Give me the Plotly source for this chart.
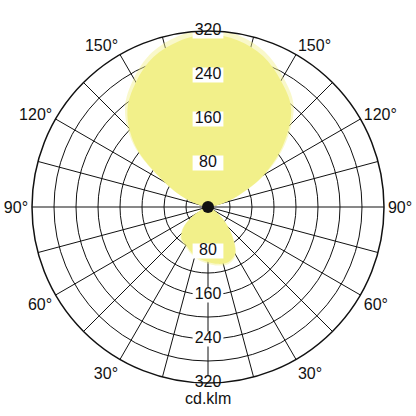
import plotly.graph_objects as go

# luminous intensity (cd/klm)
# plotly theta: 0 = straight down, 90 = right, 180 = straight up, 270 = left
theta = [0, 10, 20, 30, 40, 50, 60, 70, 80, 90,
         100, 110, 120, 130, 140, 150, 160, 170, 180,
         190, 200, 210, 220, 230, 240, 250, 260, 270,
         280, 290, 300, 310, 320, 330, 340, 350, 360]
intensity = [100, 105, 107, 98, 68, 38, 15, 5, 0, 0,
             15, 55, 118, 180, 235, 265, 292, 308, 314,
             306, 290, 262, 228, 172, 92, 42, 12, 0,
             2, 10, 30, 58, 75, 80, 88, 95, 100]

ring_vals = [40, 80, 120, 160, 200, 240, 280, 320]
ring_labels = [80, 160, 240, 320]
spoke_vals = list(range(0, 360, 15))
angle_text = {30: "30°", 60: "60°", 90: "90°", 120: "120°", 150: "150°",
              210: "150°", 240: "120°", 270: "90°", 300: "60°", 330: "30°"}

font = "Liberation Sans, Arial, sans-serif"
ink = "#111111"

fig = go.Figure()

# soft halo + light distribution fill
fig.add_trace(go.Scatterpolar(
    r=[v * 1.03 for v in intensity], theta=theta,
    mode="lines", fill="toself", line_shape="spline",
    fillcolor="rgba(242,240,138,0.45)", line=dict(width=0),
    hoverinfo="skip", showlegend=False,
))
fig.add_trace(go.Scatterpolar(
    r=intensity, theta=theta,
    mode="lines", fill="toself", line_shape="spline",
    fillcolor="rgb(242,240,138)", line=dict(width=0),
    showlegend=False,
))

# radial labels (up and down) with white boxes cutting the lines
lab_r = ring_labels + ring_labels
lab_t = [180] * len(ring_labels) + [0] * len(ring_labels)
fig.add_trace(go.Scatterpolar(
    r=lab_r, theta=lab_t, mode="markers+text",
    text=[str(v) for v in lab_r],
    textposition="middle center",
    textfont=dict(family=font, size=16, color=ink),
    marker=dict(symbol="line-ew", size=22,
                line=dict(width=15, color="white")),
    hoverinfo="skip", showlegend=False,
))

# black hub
fig.add_trace(go.Scatterpolar(
    r=[0], theta=[0], mode="markers",
    marker=dict(size=12, color=ink),
    hoverinfo="skip", showlegend=False,
))

fig.update_layout(
    width=416, height=416,
    margin=dict(l=32, r=32, t=31, b=33),
    paper_bgcolor="white",
    showlegend=False,
    polar=dict(
        bgcolor="rgba(0,0,0,0)",
        domain=dict(x=[0, 1], y=[0, 1]),
        radialaxis=dict(
            range=[0, 320], tickmode="array", tickvals=ring_vals,
            showticklabels=False, ticks="", showline=False,
            gridcolor=ink, gridwidth=1.4, layer="above traces",
        ),
        angularaxis=dict(
            rotation=270, direction="counterclockwise",
            tickmode="array", tickvals=spoke_vals,
            ticktext=[angle_text.get(a, "") for a in spoke_vals],
            tickfont=dict(family=font, size=16, color=ink),
            ticks="", showline=True, linecolor=ink, linewidth=1.5,
            gridcolor=ink, gridwidth=1.4, layer="above traces",
        ),
    ),
    annotations=[dict(
        text="cd.klm", x=0.5, y=-0.045, xref="paper", yref="paper",
        xanchor="center", yanchor="middle", showarrow=False,
        font=dict(family=font, size=16, color=ink),
    )],
)

fig.write_html("out.html", config={"displayModeBar": False},
               post_script="document.body.style.margin='0';")
